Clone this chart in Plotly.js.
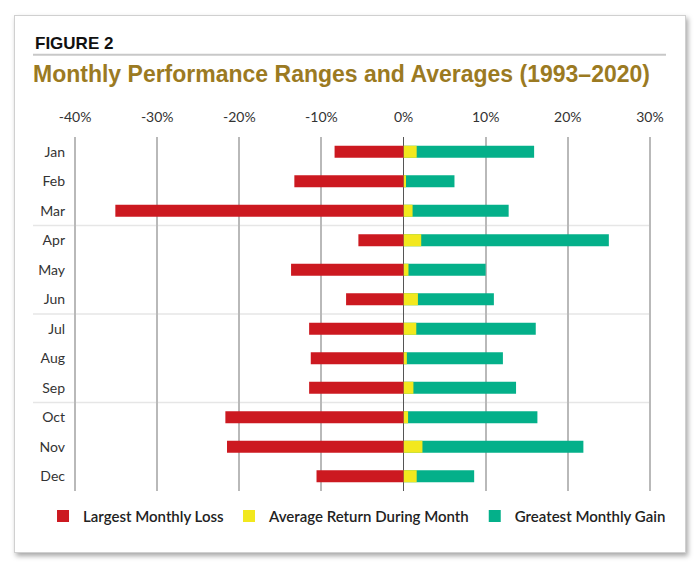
<!DOCTYPE html>
<html>
<head>
<meta charset="utf-8">
<script src="https://cdn.plot.ly/plotly-3.0.1.min.js"></script>
<style>
  body { margin: 0; background: #fff; }
  #card {
    position: absolute; left: 14px; top: 15px; width: 670px; height: 536px;
    border: 1px solid #d0d0d0; background: #fff;
    box-shadow: 2px 3px 5px rgba(0,0,0,0.35);
  }
  #graph { position: absolute; left: 0; top: 0; width: 700px; height: 570px; }
</style>
</head>
<body>
<div id="card"></div>
<div id="graph"></div>
<script>
var months = ['Jan', 'Feb', 'Mar', 'Apr', 'May', 'Jun', 'Jul', 'Aug', 'Sep', 'Oct', 'Nov', 'Dec'];
var largestLoss = [-8.4, -13.3, -35.1, -5.5, -13.7, -7.0, -11.5, -11.3, -11.5, -21.7, -21.5, -10.6];
var averageReturn = [1.6, 0.3, 1.1, 2.15, 0.6, 1.75, 1.55, 0.4, 1.2, 0.55, 2.3, 1.6];
var greatestGain = [15.9, 6.2, 12.8, 25.0, 10.0, 11.0, 16.1, 12.1, 13.7, 16.3, 21.9, 8.6];
var tickValues = [-40, -30, -20, -10, 0, 10, 20, 30];
var tickLabels = ['-40%', '-30%', '-20%', '-10%', '0%', '10%', '20%', '30%'];

var barWidth = 0.41;

var traceGain = {
    x: greatestGain, y: months, type: 'bar', orientation: 'h',
    name: 'Greatest Monthly Gain', width: barWidth, legendrank: 3,
    marker: {color: '#04b08a'}
};
var traceAvg = {
    x: averageReturn, y: months, type: 'bar', orientation: 'h',
    name: 'Average Return During Month', width: barWidth, legendrank: 2,
    marker: {color: '#f2e81e'}
};
var traceLoss = {
    x: largestLoss, y: months, type: 'bar', orientation: 'h',
    name: 'Largest Monthly Loss', width: barWidth, legendrank: 1,
    marker: {color: '#cc1920'}
};

var data = [traceGain, traceAvg, traceLoss];

// light separators between quarters
var sepLines = [2.5, 5.5, 8.5].map(function (pos) {
    return {
        type: 'line', xref: 'paper', yref: 'y', x0: -0.0652, x1: 0.993, y0: pos, y1: pos,
        line: {color: '#e6e6e6', width: 1.5}, layer: 'below'
    };
});
// rule under "FIGURE 2"
sepLines.push({
    type: 'line', xref: 'paper', yref: 'paper', x0: -0.0652, x1: 1.0206, y0: 1.232, y1: 1.232,
    line: {color: '#c8c8c8', width: 2}
});

var layout = {
    width: 700, height: 570,
    margin: {l: 71, r: 46, t: 137, b: 79},
    paper_bgcolor: 'rgba(0,0,0,0)',
    plot_bgcolor: 'rgba(0,0,0,0)',
    barmode: 'overlay',
    showlegend: true,
    font: {family: 'Lato, Open Sans, sans-serif', color: '#222'},
    title: {
        text: 'Monthly Performance Ranges and Averages (1993–2020)',
        font: {family: 'Liberation Sans, Arial, sans-serif', size: 23, color: '#9b7a22', weight: 'bold'},
        xref: 'container', yref: 'container', x: 33 / 700, xanchor: 'left',
        y: 1 - 74 / 570, yanchor: 'middle'
    },
    annotations: [{
        text: 'FIGURE 2', xref: 'paper', yref: 'paper', x: -0.0652, y: 1.263,
        xanchor: 'left', yanchor: 'middle', showarrow: false,
        font: {family: 'Liberation Sans, Arial, sans-serif', size: 17, color: '#111', weight: 'bold'}
    }],
    shapes: sepLines,
    xaxis: {
        side: 'top', range: [-40.5, 30.5], tickvals: tickValues, ticktext: tickLabels,
        showgrid: true, gridcolor: '#b9b9b9', gridwidth: 2,
        zeroline: true, zerolinecolor: '#555', zerolinewidth: 1,
        ticks: '', ticklabelstandoff: 11,
        tickfont: {size: 14, color: '#333'}, fixedrange: true
    },
    yaxis: {
        type: 'category', autorange: 'reversed', showgrid: false, zeroline: false,
        ticks: '', ticklabelstandoff: 5,
        tickfont: {size: 14, color: '#333'}, fixedrange: true
    },
    legend: {
        orientation: 'h', x: -0.048, xanchor: 'left', y: -0.025, yanchor: 'top',
        font: {size: 15, color: '#222', weight: 600},
        traceorder: 'normal', bgcolor: 'rgba(0,0,0,0)'
    }
};

Plotly.newPlot('graph', data, layout, {displayModeBar: false, staticPlot: true});
</script>
</body>
</html>
